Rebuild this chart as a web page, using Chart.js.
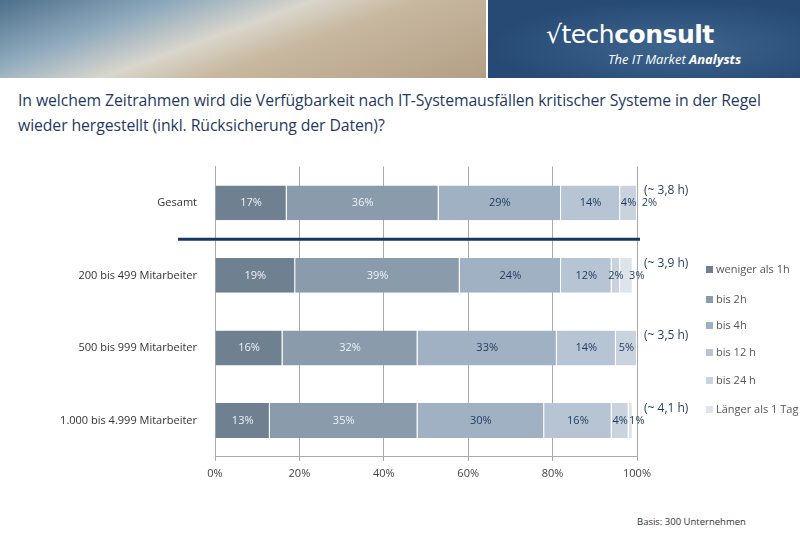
<!DOCTYPE html>
<html><head><meta charset="utf-8">
<script src="https://cdn.jsdelivr.net/npm/chart.js@4"></script>
<style>
body{margin:0;width:800px;height:535px;background:#fff;font-family:"Open Sans",Calibri,sans-serif;position:relative;overflow:hidden}
#img{position:absolute;left:0;top:0;width:486px;height:78px;background:linear-gradient(160deg,#4d6f8a 0%,#8ea9bd 25%,#d9d6cc 45%,#c8b8a0 60%,#b39f86 100%)}
#logo{position:absolute;left:488px;top:0;width:312px;height:78px;background:radial-gradient(ellipse at 60% 60%,#3f6690,#264a73 70%);color:#fff}
#logo .a{position:absolute;left:58px;top:20px;font-size:25px;font-family:"DejaVu Sans";letter-spacing:-0.5px}
#logo .b{position:absolute;left:120px;top:50px;font-size:13px;font-style:italic}
#title{position:absolute;left:18px;top:88px;font-size:15.8px;color:#1f3a5f;line-height:25px;width:790px;letter-spacing:-0.1px}
#wrap{position:absolute;left:0;top:150px;width:800px;height:336px}
.lg{position:absolute;left:706px;font-size:11px;color:#555}
.lg i{display:inline-block;width:7px;height:7px;margin-right:3px}
#basis{position:absolute;left:637px;top:515px;font-size:9.5px;color:#333}
</style></head><body>
<div id="img"></div>
<div id="logo"><div class="a">√tech<b>consult</b></div><div class="b">The IT Market <b>Analysts</b></div></div>
<div id="title">In welchem Zeitrahmen wird die Verfügbarkeit nach IT-Systemausfällen kritischer Systeme in der Regel<br>wieder hergestellt (inkl. Rücksicherung der Daten)?</div>
<div id="wrap"><canvas id="c" width="800" height="336"></canvas></div>
<div id="legend"></div>
<div id="basis">Basis: 300 Unternehmen</div>
<script>
const categories=["Gesamt","200 bis 499 Mitarbeiter","500 bis 999 Mitarbeiter","1.000 bis 4.999 Mitarbeiter"];
const seriesNames=["weniger als 1h","bis 2h","bis 4h","bis 12 h","bis 24 h","Länger als 1 Tag"];
const s1=[17,19,16,13];
const s2=[36,39,32,35];
const s3=[29,24,33,30];
const s4=[14,12,14,16];
const s5=[4,2,5,4];
const s6=[2,3,0,1];
const avgLabels=["(~ 3,8 h)","(~ 3,9 h)","(~ 3,5 h)","(~ 4,1 h)"];
const colors=["#6f8090","#8a9bac","#a0b1c3","#b6c4d3","#c9d3de","#dee4eb"];
const textCol=["#eef2f6","#eef2f6","#1f3a5f","#1f3a5f","#1f3a5f","#1f3a5f"];
const all=[s1,s2,s3,s4,s5,s6];
const legendTops=[261,291,317,344,372,401];
let lh='';seriesNames.forEach((n,i)=>{lh+=`<div class="lg" style="top:${legendTops[i]}px"><i style="background:${colors[i]}"></i>${n}</div>`});
document.getElementById('legend').innerHTML=lh;
const plug={id:'p',afterDatasetsDraw(ch){
 const ctx=ch.ctx,x=ch.scales.x,y=ch.scales.y;
 ctx.save();ctx.font='11px "Open Sans"';ctx.textBaseline='middle';
 ch.data.datasets.forEach((ds,di)=>{const m=ch.getDatasetMeta(di);m.data.forEach((b,i)=>{const v=ds.data[i];if(!v)return;
  const cx=(b.x+b.base)/2;ctx.fillStyle=textCol[di];ctx.textAlign='center';
  let px=cx; if(di==5){px=b.x+4;} ctx.fillText(v+'%',px,b.y);});});
 ctx.font='12px "Open Sans"';ctx.fillStyle='#1f3a5f';ctx.textAlign='left';
 categories.forEach((c,i)=>{ctx.fillText(avgLabels[i],x.getPixelForValue(100)+7,y.getPixelForValue(i)-12)});
 const ly=(y.getPixelForValue(0)+y.getPixelForValue(1))/2;
 ctx.strokeStyle='#17375e';ctx.lineWidth=3;ctx.beginPath();ctx.moveTo(178,ly);ctx.lineTo(x.getPixelForValue(100)+3,ly);ctx.stroke();
 ctx.restore();}};
new Chart(document.getElementById('c'),{type:'bar',
 data:{labels:categories,datasets:all.map((d,i)=>({label:seriesNames[i],data:d,backgroundColor:colors[i],borderColor:'#fff',borderWidth:{right:1},borderSkipped:false,categoryPercentage:0.96,barPercentage:0.5}))},
 options:{indexAxis:'y',responsive:false,animation:false,events:[],
  layout:{padding:{left:0,right:163,top:8,bottom:0}},
  plugins:{legend:{display:false},tooltip:{enabled:false}},
  scales:{x:{stacked:true,min:0,max:100,ticks:{stepSize:20,callback:v=>v+'%',color:'#444',font:{size:11,family:'Open Sans'},padding:6},grid:{color:'#aaa',drawTicks:true,tickLength:4},border:{color:'#aaa'}},
   y:{stacked:true,ticks:{color:'#333',font:{size:11,family:'Open Sans'},padding:10},grid:{display:false},border:{color:'#aaa'},afterFit(s){s.width=215}}}},
 plugins:[plug]});
</script></body></html>
